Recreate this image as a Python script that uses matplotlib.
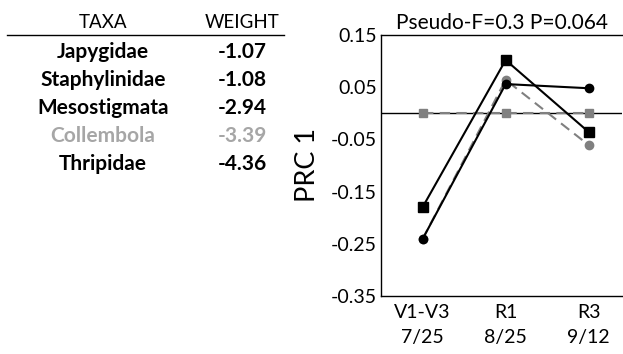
import matplotlib
matplotlib.use("Agg")
import matplotlib.pyplot as plt

plt.rcParams.update({
    "font.family": ["Lato", "DejaVu Sans"],
    "font.size": 14,
})

# table on the left
taxa = ["Japygidae", "Staphylinidae", "Mesostigmata", "Collembola", "Thripidae"]
weights = ["-1.07", "-1.08", "-2.94", "-3.39", "-4.36"]
taxa_colors = ["black", "black", "black", "#a6a6a6", "black"]

# PRC curves
times = ["V1-V3\n7/25", "R1\n8/25", "R3\n9/12"]
black_sq = [-0.18, 0.102, -0.036]
black_ci = [-0.241, 0.056, 0.048]
gray_ci = [-0.241, 0.064, -0.061]
gray_sq = [0.0, 0.0, 0.0]

fig = plt.figure(figsize=(6.23, 3.54), dpi=100)

# --- table ---
tx = fig.add_axes([0, 0, 1, 1])
tx.set_xlim(0, 623)
tx.set_ylim(354, 0)
tx.axis("off")
tx.text(103, 22, "TAXA", ha="center", va="center", fontsize=13.5)
tx.text(242, 22, "WEIGHT", ha="center", va="center", fontsize=13.5)
tx.plot([7, 284], [35, 35], color="black", lw=1)
for i, (t, w, c) in enumerate(zip(taxa, weights, taxa_colors)):
    yy = 52 + i * 28
    tx.text(103, yy, t, ha="center", va="center", fontsize=15,
            fontweight="bold", color=c)
    tx.text(242, yy, w, ha="center", va="center", fontsize=15,
            fontweight="bold", color=c)

# --- PRC plot ---
ax = fig.add_axes([381 / 623, 1 - 296 / 354, 241 / 623, 261 / 354])
x = list(range(len(times)))
ax.axhline(0, color="black", lw=1, zorder=1)
ax.plot(x, gray_sq, color="#808080", ls=(0, (5, 3)), lw=1.5,
        marker="s", ms=6, zorder=2)
ax.plot(x, gray_ci, color="#808080", ls=(0, (5, 3)), lw=1.5,
        marker="o", ms=6, zorder=2)
ax.plot(x, black_ci, color="black", lw=1.5, marker="o", ms=6, zorder=3)
ax.plot(x, black_sq, color="black", lw=1.5, marker="s", ms=7, zorder=3)

ax.set_xlim(-0.5, 2.4)
ax.set_ylim(-0.35, 0.15)
ax.set_yticks([-0.35, -0.25, -0.15, -0.05, 0.05, 0.15])
ax.set_yticklabels(["-0.35", "-0.25", "-0.15", "-0.05", "0.05", "0.15"])
ax.set_xticks(x)
ax.set_xticklabels(times, linespacing=1.55)
ax.tick_params(length=0, pad=3)
ax.tick_params(axis="x", pad=6)
ax.spines["right"].set_visible(False)
for s in ["left", "top", "bottom"]:
    ax.spines[s].set_linewidth(1)
ax.set_ylabel("PRC 1", fontsize=19.5, labelpad=8)
ax.set_title("Pseudo-F=0.3 P=0.064", fontsize=15, pad=4)

fig.savefig("out.png", dpi=100)
